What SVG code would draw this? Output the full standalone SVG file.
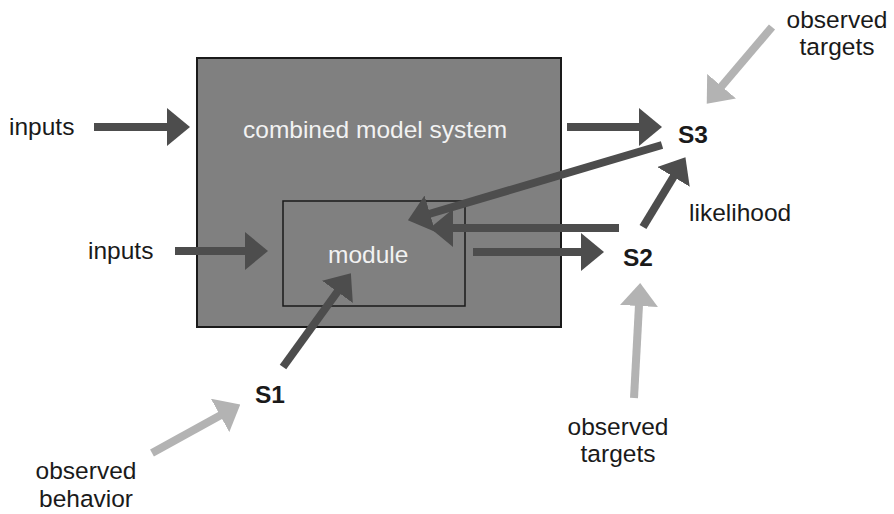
<svg xmlns="http://www.w3.org/2000/svg" width="894" height="514" viewBox="0 0 894 514">
<style>
text{font-family:"Liberation Sans",Arial,sans-serif;font-size:24.5px;fill:#1a1a1a}
.w{fill:#f2f2f2}
.b{font-weight:bold}
.c{text-anchor:middle}
.box{fill:#808080;stroke:#1a1a1a;stroke-width:2}
.inner{fill:none;stroke:#1a1a1a;stroke-width:1.5}
.d{stroke:#4d4d4d;stroke-width:8;fill:none;marker-end:url(#ad)}
.l{stroke:#b3b3b3;stroke-width:8;fill:none;marker-end:url(#al)}
</style>
<defs>
<marker id="ad" markerUnits="userSpaceOnUse" viewBox="0 0 23 38" refX="1" refY="19" markerWidth="23" markerHeight="38" orient="auto"><path d="M0,0L23,19L0,38z" fill="#4d4d4d"/></marker>
<marker id="al" markerUnits="userSpaceOnUse" viewBox="0 0 23 38" refX="1" refY="19" markerWidth="23" markerHeight="38" orient="auto"><path d="M0,0L23,19L0,38z" fill="#b3b3b3"/></marker>
</defs>
<g id="system">
<rect class="box" x="197" y="58" width="364" height="269"/>
<text class="w" x="243" y="138">combined model system</text>
</g>
<g id="module">
<rect class="inner" x="283" y="201" width="182" height="105"/>
<text class="w" x="328" y="263">module</text>
</g>
<g id="inputs1"><text x="9" y="135">inputs</text></g>
<g id="inputs2"><text x="88" y="259">inputs</text></g>
<g id="S1"><text class="b" x="255" y="403">S1</text></g>
<g id="S2"><text class="b" x="623" y="266">S2</text></g>
<g id="S3"><text class="b" x="678" y="143">S3</text></g>
<g id="likelihood"><text x="689" y="221">likelihood</text></g>
<g id="obsBehavior"><text class="c" x="86" y="479">observed</text><text class="c" x="86" y="507">behavior</text></g>
<g id="obsTargets2"><text class="c" x="618" y="435">observed</text><text class="c" x="618" y="462">targets</text></g>
<g id="obsTargets3"><text class="c" x="837" y="28">observed</text><text class="c" x="837" y="55">targets</text></g>
<g id="connectors">
<line class="d" x1="94" y1="127" x2="168" y2="127"/>
<line class="d" x1="175" y1="251" x2="246" y2="251"/>
<line class="d" x1="567" y1="127" x2="640" y2="127"/>
<line class="d" x1="473" y1="252" x2="582" y2="252"/>
<line class="d" x1="662" y1="145" x2="429" y2="214"/>
<line class="d" x1="619" y1="228" x2="452" y2="228"/>
<line class="d" x1="643" y1="227" x2="674" y2="176"/>
<line class="d" x1="283" y1="367" x2="338" y2="291"/>
<line class="l" x1="152" y1="453" x2="221" y2="415"/>
<line class="l" x1="634" y1="398" x2="639" y2="305"/>
<line class="l" x1="772" y1="27" x2="721" y2="87"/>
</g>
</svg>
